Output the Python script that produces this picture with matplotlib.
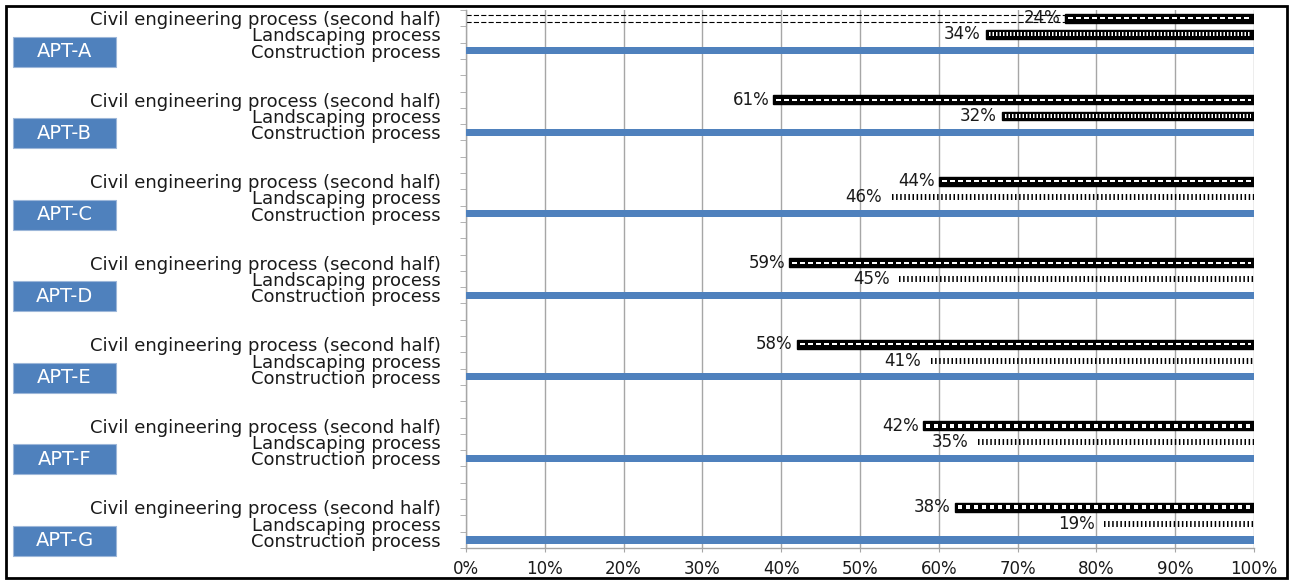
import matplotlib
matplotlib.use("Agg")
import matplotlib.pyplot as plt
from matplotlib.patches import Rectangle
from matplotlib.transforms import blended_transform_factory

plt.rcParams['font.family'] = ['DejaVu Sans']
plt.rcParams['lines.scale_dashes'] = False

# data
apartments = ['APT-A', 'APT-B', 'APT-C', 'APT-D', 'APT-E', 'APT-F', 'APT-G']
row_names = ['Civil engineering process (second half)', 'Landscaping process', 'Construction process']
civil_pct = [24, 61, 44, 59, 58, 42, 38]
civil_start = [76, 39, 60, 41, 42, 58, 62]
land_pct = [34, 32, 46, 45, 41, 35, 19]
land_start = [66, 68, 54, 55, 59, 65, 81]
construction = [100, 100, 100, 100, 100, 100, 100]
x_ticks = [0, 10, 20, 30, 40, 50, 60, 70, 80, 90, 100]

# pattern style per apartment
civil_style = ['dash', 'dash', 'dash', 'dash', 'dash', 'square', 'square']
land_style = ['dot', 'dot', 'tick', 'tick', 'tick', 'tick', 'tick']

BLUE = '#4F81BD'
GRID = '#A6A6A6'
TXT = '#1a1a1a'
PX = 0.72  # points per pixel at dpi 100

fig = plt.figure(figsize=(12.91, 5.82), dpi=100)
ax = fig.add_axes([466 / 1291, 1 - 548 / 582, 788 / 1291, 538 / 582])

slots = 5 * len(apartments) - 2
labels_pos = []
labels_txt = []

for i, apt in enumerate(apartments):
    y_civ = 5 * i
    y_land = 5 * i + 1
    y_con = 5 * i + 2
    labels_pos += [y_civ, y_land, y_con]
    labels_txt += row_names

    # construction: plain blue bar
    ax.barh(y_con, construction[i], height=0.45, color=BLUE, zorder=3)

    # civil engineering: black bar with white pattern inside
    ax.barh(y_civ, 100 - civil_start[i], left=civil_start[i], height=0.55,
            color='black', edgecolor='black', linewidth=1, zorder=3)
    if civil_style[i] == 'dash':
        ax.hlines(y_civ, civil_start[i] + 0.4, 99.6, color='white', linewidth=2 * PX,
                  linestyles=[(0, (5 * PX, 3 * PX))], zorder=4)
    else:
        ax.hlines(y_civ, civil_start[i] + 0.4, 99.6, color='white', linewidth=4 * PX,
                  linestyles=[(0, (4 * PX, 4 * PX))], zorder=4)
    ax.annotate(f'{civil_pct[i]}%', (civil_start[i], y_civ), xytext=(-3, 0),
                textcoords='offset points', ha='right', va='center',
                fontsize=12, color=TXT, zorder=5)

    # landscaping
    if land_style[i] == 'dot':
        ax.barh(y_land, 100 - land_start[i], left=land_start[i], height=0.5,
                color='black', edgecolor='black', linewidth=1, zorder=3)
        ax.hlines(y_land, land_start[i] + 0.4, 99.6, color='white', linewidth=4 * PX,
                  linestyles=[(0, (1.5 * PX, 2 * PX))], zorder=4)
        gap = -4
    else:
        ax.hlines(y_land, land_start[i], 100, color='black', linewidth=6 * PX,
                  linestyles=[(0, (1.5 * PX, 2.6 * PX))], zorder=4)
        gap = -7
    ax.annotate(f'{land_pct[i]}%', (land_start[i], y_land), xytext=(gap, 0),
                textcoords='offset points', ha='right', va='center',
                fontsize=12, color=TXT, zorder=5)

# dashed outline of the hidden offset bar on the first row
ax.barh(0, civil_start[0], height=0.42, fill=False, edgecolor='black',
        linestyle='--', linewidth=0.8, zorder=2)

ax.set_xlim(0, 100)
ax.set_ylim(slots - 0.5, -0.5)
ax.set_xticks(x_ticks)
ax.set_xticklabels([f'{v}%' for v in x_ticks], fontsize=12, color=TXT)
ax.set_yticks(labels_pos)
ax.set_yticklabels(labels_txt, fontsize=13, color=TXT)
ax.set_yticks([k - 0.5 for k in range(slots + 1)], minor=True)
ax.tick_params(axis='y', which='major', length=0, pad=18)
ax.tick_params(axis='y', which='minor', length=4.5, color=GRID, direction='out')
ax.tick_params(axis='x', which='major', length=3, color=GRID, pad=6)
ax.grid(axis='x', color=GRID, linewidth=1.0, zorder=0)
ax.set_axisbelow(True)
for side in ['top', 'right']:
    ax.spines[side].set_visible(False)
for side in ['left', 'bottom']:
    ax.spines[side].set_color(GRID)
    ax.spines[side].set_linewidth(1.0)

# APT boxes on the left
trans = blended_transform_factory(fig.transFigure, ax.transData)
for i, apt in enumerate(apartments):
    yc = 5 * i + 2.05
    box = Rectangle((13 / 1291, yc - 0.92), 103 / 1291, 1.84, transform=trans,
                    facecolor=BLUE, edgecolor='#9DB7D9', linewidth=0.8, clip_on=False)
    fig.add_artist(box)
    fig.text(64.5 / 1291, yc, apt, transform=trans, ha='center', va='center',
             fontsize=14, color='white')

# outer black frame
fig.add_artist(Rectangle((6 / 1291, 4 / 582), 1281 / 1291, 572 / 582,
                         transform=fig.transFigure, fill=False,
                         edgecolor='black', linewidth=2))

fig.savefig('out.png', dpi=100)
